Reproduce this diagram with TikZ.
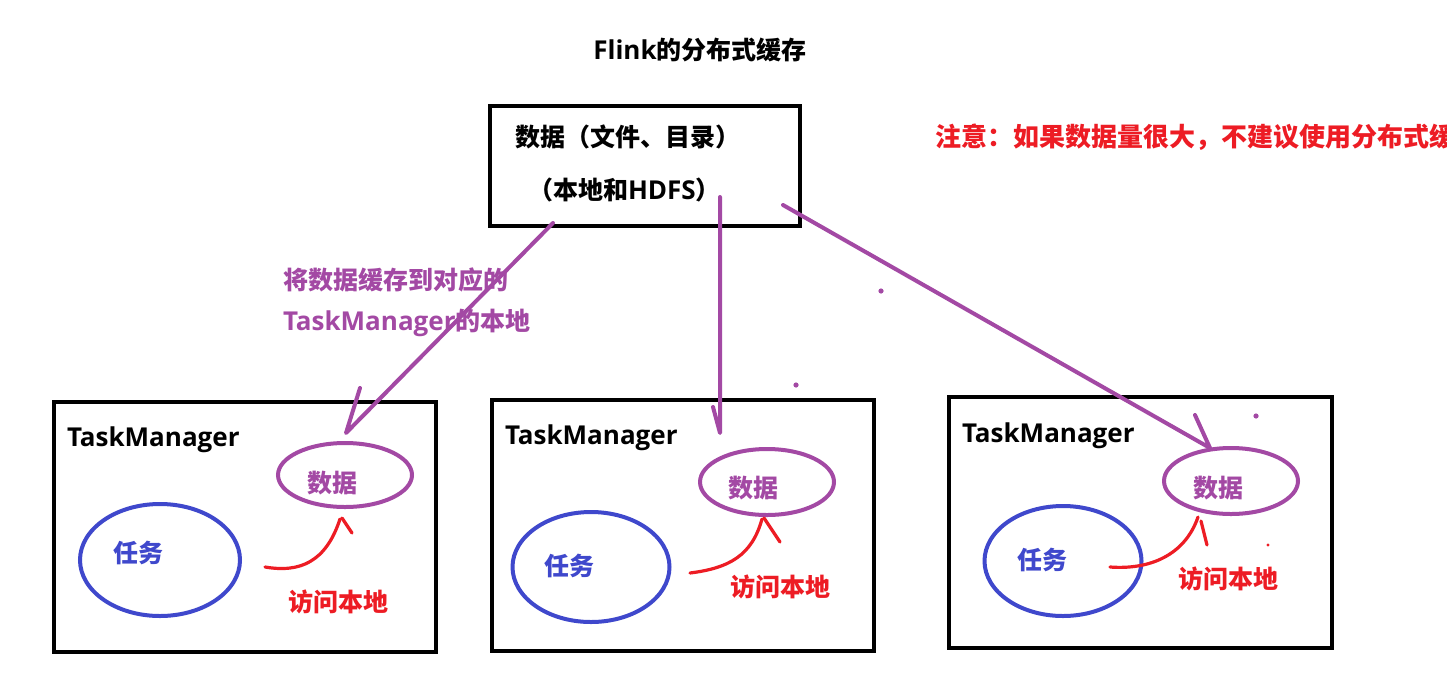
\documentclass[tikz,border=0pt]{standalone}
\usepackage{fontspec}
\usetikzlibrary{shapes.geometric}
\setmainfont{Open Sans}
\newfontfamily\cjk{Noto Sans CJK SC}
\definecolor{pp}{RGB}{163,73,164}
\definecolor{bl}{RGB}{63,72,204}
\definecolor{rd}{RGB}{237,28,36}
\newcommand{\cj}[1]{{\fontsize{25}{30}\cjk\bfseries #1}}
\begin{document}
\begin{tikzpicture}[x=1pt,y=-1pt,
  every node/.style={inner sep=0pt,outer sep=0pt,font=\fontsize{26}{30}\selectfont\bfseries},
  frame/.style={draw=black,line width=4pt,rectangle},
  dataell/.style={draw=pp,line width=4pt,ellipse,minimum width=134pt,minimum height=66pt},
  taskell/.style={draw=bl,line width=4pt,ellipse,minimum width=157pt,minimum height=110pt},
  ptxt/.style={text=pp},
  btxt/.style={text=bl},
  rtxt/.style={text=rd},
  pline/.style={draw=pp,line width=4pt,line cap=round,line join=round},
  rline/.style={draw=rd,line width=3.2pt,line cap=round,line join=round},
]
\clip (0,0) rectangle (1447,691);
\fill[white] (0,0) rectangle (1447,691);

% title
\node (title) at (700,50) {Flink\cj{的分布式缓存}};

% source box
\node[frame,minimum width=310pt,minimum height=120pt] (src) at (645,166) {};
\node[anchor=west] (src1) at (515,137) {\cj{数据（文件、目录）}};
\node[anchor=west] (src2) at (528,190) {\cj{（本地和}HDFS\cj{）}};

% note
\node[rtxt,anchor=west] (note) at (935,137) {{\fontsize{26}{30}\cjk\bfseries 注意：如果数据量很大，不建议使用分布式缓存}};

% purple label
\node[ptxt,anchor=west] (lab1) at (283,280) {\cj{将数据缓存到对应的}};
\node[ptxt,anchor=west] (lab2) at (283,323) {TaskManager\cj{的本地}};

% TaskManager boxes
\node[frame,minimum width=382pt,minimum height=250pt] (tm1) at (245,527) {};
\node[frame,minimum width=382pt,minimum height=251pt] (tm2) at (683,525) {};
\node[frame,minimum width=383pt,minimum height=251pt] (tm3) at (1140.5,522.5) {};
\node[anchor=west] (tm1l) at (67,440) {TaskManager};
\node[anchor=west] (tm2l) at (505,438) {TaskManager};
\node[anchor=west] (tm3l) at (962,436) {TaskManager};

% data ellipses
\node[dataell,minimum height=64pt] (d1) at (345,475) {};
\node[dataell] (d2) at (767,482) {};
\node[dataell] (d3) at (1231,481) {};
\node[ptxt] (d1t) at (332,483) {\cj{数据}};
\node[ptxt] (d2t) at (753,488) {\cj{数据}};
\node[ptxt] (d3t) at (1218,488) {\cj{数据}};

% task ellipses
\node[taskell,minimum width=160pt,minimum height=112pt] (t1) at (160,560) {};
\node[taskell] (t2) at (591,567) {};
\node[taskell] (t3) at (1063,561) {};
\node[btxt] (t1t) at (138,553) {\cj{任务}};
\node[btxt] (t2t) at (569,566) {\cj{任务}};
\node[btxt] (t3t) at (1042,560) {\cj{任务}};

% access labels
\node[rtxt] (r1t) at (338,602) {\cj{访问本地}};
\node[rtxt] (r2t) at (780,587) {\cj{访问本地}};
\node[rtxt] (r3t) at (1228,579) {\cj{访问本地}};

% purple arrows
\coordinate (a1s) at (553,223);
\coordinate (a1t) at (346,433);
\coordinate (a2s) at (720,197);
\coordinate (a2t) at (720,433);
\coordinate (a3s) at (783,205);
\coordinate (a3t) at (1210,448);
\draw[pline] (a1s) -- (a1t) -- ++(14,-45);
\draw[pline] (a2s) -- (a2t) -- ++(-7,-26);
\draw[pline] (a3s) -- (a3t) -- ++(-15,-33);

% red arrows
\coordinate (r1s) at (265,567);
\coordinate (r1e) at (340,519);
\coordinate (r2s) at (690,573);
\coordinate (r2e) at (762,519);
\coordinate (r3s) at (1110,567);
\coordinate (r3e) at (1198,517);
\draw[rline] (r1s) .. controls (300,573) and (326,562) .. (r1e);
\draw[rline] (r1e) ++(2,-1) -- ++(10,15);
\draw[rline] (r2s) .. controls (730,568) and (752,555) .. (r2e);
\draw[rline] (r2e) ++(2,-1) -- ++(16,24);
\draw[rline] (r3s) .. controls (1150,570) and (1185,555) .. (r3e);
\draw[rline] (r3e) ++(3,4) -- ++(6,24);

% stray dots
\fill[pp] (881,291) circle (2.6);
\fill[pp] (796,385) circle (2.6);
\fill[pp] (1256,416) circle (2.6);
\fill[rd] (1268,545) circle (1.6);
\end{tikzpicture}
\end{document}
